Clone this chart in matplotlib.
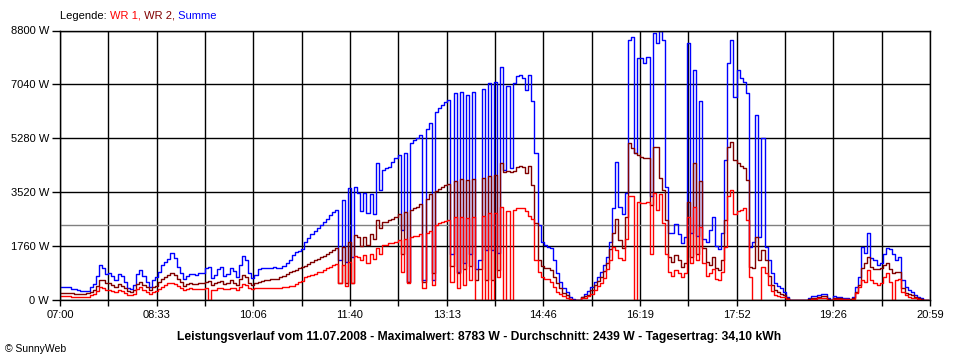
import matplotlib
matplotlib.use("Agg")
import matplotlib.pyplot as plt
import numpy as np

plt.rcParams['font.family'] = ['Liberation Sans', 'DejaVu Sans']

# Messzeitpunkte in Minuten ab 07:00 (3-Minuten-Raster)
minutes = np.arange(0, 840, 3)

# Summe (blau), W
summe = [
    410, 410, 410, 410, 370, 350, 340, 300, 280, 300,
    420, 520, 800, 1150, 1050, 850, 870, 780, 640, 860,
    800, 600, 400, 360, 480, 850, 990, 800, 600, 440,
    640, 740, 920, 1150, 1250, 1350, 1520, 1380, 1090, 880,
    700, 800, 860, 850, 820, 870, 880, 1050, 1090, 720,
    820, 1000, 1070, 780, 850, 1060, 960, 760, 1150, 1440,
    1300, 880, 720, 820, 1000, 1050, 1050, 1060, 1060, 1070,
    1040, 1050, 1100, 1200, 1320, 1480, 1560, 1610, 1660, 1900,
    2040, 2150, 2240, 2350, 2440, 2560, 2640, 2760, 2860, 2950,
    1300, 3270, 1250, 3650, 1400, 3700, 3500, 2900, 3500, 2830,
    3450, 2820, 4460, 3600, 4250, 4300, 4350, 4500, 4630, 4750,
    2300, 4800, 600, 5120, 5230, 5300, 5380, 650, 5600, 5780,
    650, 6150, 6260, 6380, 6450, 6530, 1500, 6750, 900, 6800,
    1200, 6700, 1500, 6780, 1000, 1300, 6900, 1630, 7080, 1630,
    7130, 1520, 7620, 4250, 7000, 4300, 7100, 7300, 7350, 7250,
    6860, 7350, 6500, 4800, 2450, 1900, 1780, 1740, 1690, 1300,
    870, 600, 400, 250, 100, 20, 0, 0, 100, 200,
    290, 430, 600, 760, 920, 1150, 1400, 1900, 3000, 4520,
    3050, 2800, 3500, 8490, 8600, 4800, 7900, 7900, 7730, 7950,
    3400, 8710, 8390, 8783, 8490, 3700, 2178, 2200, 2480, 2150,
    1850, 2070, 8400, 2200, 7510, 2100, 6500, 2000, 1900, 2300,
    2700, 1750, 1650, 2200, 4570, 7730, 8500, 6640, 7500, 7240,
    7130, 6750, 1740, 1900, 6040, 2070, 5280, 1740, 1300, 870,
    540, 450, 380, 272, 110, 0, 0, 0, 0, 0,
    0, 55, 120, 140, 160, 200, 200, 60, 0, 130,
    110, 110, 80, 76, 0, 110, 435, 760, 1740, 1525,
    2178, 1360, 1300, 1150, 1200, 1500, 1700, 1650, 1500, 1300,
    1400, 650, 435, 330, 260, 160, 100, 55, 0, 0,
]

# WR 2 (dunkelrot), W
wr2 = [
    240, 240, 240, 235, 215, 205, 200, 195, 200, 215,
    260, 320, 470, 650, 640, 560, 540, 500, 430, 530,
    470, 380, 280, 250, 330, 520, 600, 500, 410, 320,
    430, 470, 580, 680, 760, 820, 890, 830, 700, 580,
    470, 520, 550, 530, 520, 550, 560, 600, 620, 500,
    540, 600, 620, 530, 550, 640, 560, 500, 700, 810,
    760, 560, 500, 560, 600, 620, 640, 660, 670, 680,
    700, 760, 800, 850, 900, 950, 990, 1040, 1080, 1110,
    1160, 1230, 1300, 1350, 1400, 1440, 1500, 1560, 1620, 1700,
    560, 1740, 545, 1900, 560, 2120, 2050, 1750, 2050, 1780,
    2150, 2000, 2600, 2350, 2560, 2550, 2600, 2650, 2720, 2800,
    1500, 2880, 600, 2950, 2990, 3050, 3120, 600, 3300, 3450,
    870, 3560, 3620, 3700, 3760, 3800, 1100, 3900, 870, 3950,
    1000, 3920, 1100, 3950, 650, 1000, 4000, 650, 4050, 650,
    4080, 980, 4460, 4190, 4200, 4190, 4220, 4330, 4360, 4330,
    4140, 4360, 3750, 2500, 1300, 1120, 1060, 1040, 980, 760,
    545, 380, 230, 150, 40, 0, 0, 0, 100, 140,
    170, 320, 500, 620, 760, 950, 1200, 1650, 2200, 2650,
    1960, 1700, 2700, 5120, 4950, 4800, 4740, 4680, 4650, 4630,
    3100, 5010, 5000, 4000, 3600, 2614, 1400, 1250, 1470, 1290,
    1090, 1200, 3200, 1400, 4465, 1500, 3900, 1700, 1250, 1150,
    1400, 1050, 980, 1300, 2614, 5000, 5150, 4570, 4465, 4360,
    4300, 3920, 1090, 1050, 2070, 1300, 1630, 1300, 800, 500,
    320, 250, 200, 163, 50, 0, 0, 0, 0, 0,
    0, 20, 60, 80, 110, 140, 120, 30, 0, 76,
    60, 50, 44, 44, 20, 50, 272, 490, 1035, 1200,
    1415, 1090, 1000, 1000, 1050, 1150, 1200, 1000, 870, 920,
    900, 380, 240, 190, 150, 100, 50, 20, 0, 0,
]

# WR 1 (rot), W
wr1 = [
    130, 130, 130, 125, 110, 100, 90, 85, 95, 110,
    160, 210, 300, 420, 380, 320, 330, 300, 270, 330,
    300, 240, 170, 150, 200, 350, 420, 330, 260, 210,
    270, 290, 350, 420, 480, 540, 570, 520, 460, 390,
    330, 360, 380, 350, 360, 360, 370, 380, 0, 320,
    340, 380, 400, 350, 360, 400, 380, 330, 420, 520,
    480, 380, 360, 380, 390, 390, 390, 390, 390, 390,
    390, 400, 420, 430, 450, 470, 520, 580, 620, 760,
    800, 830, 860, 900, 920, 980, 1030, 1080, 1140, 1180,
    560, 1150, 450, 1250, 560, 1450, 1420, 1300, 1470, 1200,
    1500, 1350, 1700, 1500, 1780, 1800, 1850, 1870, 1900, 1950,
    900, 2000, 540, 2070, 2080, 2100, 2150, 400, 2200, 2250,
    500, 2450, 2530, 2560, 2580, 2600, 600, 2700, 400, 2700,
    500, 2680, 650, 2700, 0, 0, 2750, 0, 2830, 0,
    2850, 760, 3050, 0, 2900, 0, 2950, 3000, 3000, 3000,
    2900, 2750, 2650, 1300, 900, 760, 700, 700, 600, 435,
    272, 180, 120, 80, 20, 0, 0, 0, 50, 80,
    120, 210, 340, 450, 545, 720, 1000, 1300, 1740, 1630,
    1360, 1300, 2000, 3400, 3400, 0, 3200, 3160, 3160, 3200,
    1500, 3480, 2950, 3450, 2500, 1500, 900, 800, 980, 870,
    760, 870, 2700, 1200, 3050, 1300, 2400, 1200, 780, 870,
    1000, 700, 650, 900, 1740, 3400, 3600, 2800, 2900, 2950,
    3000, 2614, 760, 0, 0, 0, 1090, 870, 500, 300,
    160, 130, 100, 87, 20, 0, 0, 0, 0, 0,
    0, 0, 30, 40, 55, 80, 60, 10, 0, 20,
    20, 20, 20, 20, 10, 20, 218, 435, 650, 600,
    980, 650, 545, 490, 540, 750, 870, 600, 0, 650,
    700, 272, 163, 110, 80, 50, 30, 0, 0, 0,
]

durchschnitt = 2439
x_labels = ['07:00', '08:33', '10:06', '11:40', '13:13',
            '14:46', '16:19', '17:52', '19:26', '20:59']
y_ticks = [0, 1760, 3520, 5280, 7040, 8800]

fig = plt.figure(figsize=(9.6, 3.6), dpi=100)
ax = fig.add_axes([60 / 960, 60 / 360, 870 / 960, 269.5 / 360])

ax.plot(minutes, summe, color='#0000FF', lw=1.0, drawstyle='steps-mid')
ax.plot(minutes, wr2, color='#800000', lw=1.0, drawstyle='steps-mid')
ax.plot(minutes, wr1, color='#FF0000', lw=1.0, drawstyle='steps-mid')

# Durchschnittslinie
ax.axhline(durchschnitt, color='#808080', lw=1.0, zorder=1.5)

ax.set_xlim(0, 839)
ax.set_ylim(0, 8800)

x_ticks = np.arange(19) * 839 / 18
ax.set_xticks(x_ticks)
ax.set_xticklabels([x_labels[i // 2] if i % 2 == 0 else '' for i in range(19)])
ax.set_yticks(y_ticks)
ax.set_yticklabels([f'{v} W' for v in y_ticks])

ax.tick_params(axis='x', length=4, width=1, pad=3, labelsize=8, direction='out')
ax.tick_params(axis='y', length=6, width=1, pad=2, labelsize=8, direction='out')

ax.grid(True, color='black', lw=1.0)
ax.set_axisbelow(True)
for s in ax.spines.values():
    s.set_color('black')
    s.set_linewidth(1.0)

# Legende
t0 = fig.text(60 / 960, 1 - 16 / 360, 'Legende: ', fontsize=8, va='center', color='black')
t1 = ax.annotate('WR 1,', xy=(1, 0.5), xycoords=t0, va='center', fontsize=8, color='#FF0000')
t2 = ax.annotate(' WR 2,', xy=(1, 0.5), xycoords=t1, va='center', fontsize=8, color='#800000')
t3 = ax.annotate(' Summe', xy=(1, 0.5), xycoords=t2, va='center', fontsize=8, color='#0000FF')

fig.text(479 / 960, 1 - 337 / 360,
         'Leistungsverlauf vom 11.07.2008 - Maximalwert: 8783 W - Durchschnitt: 2439 W - Tagesertrag: 34,10 kWh',
         fontsize=8.7, fontweight='bold', ha='center', va='center')
fig.text(5 / 960, 1 - 349 / 360, '© SunnyWeb', fontsize=7.5, ha='left', va='center')

fig.savefig('out.png', dpi=100)
